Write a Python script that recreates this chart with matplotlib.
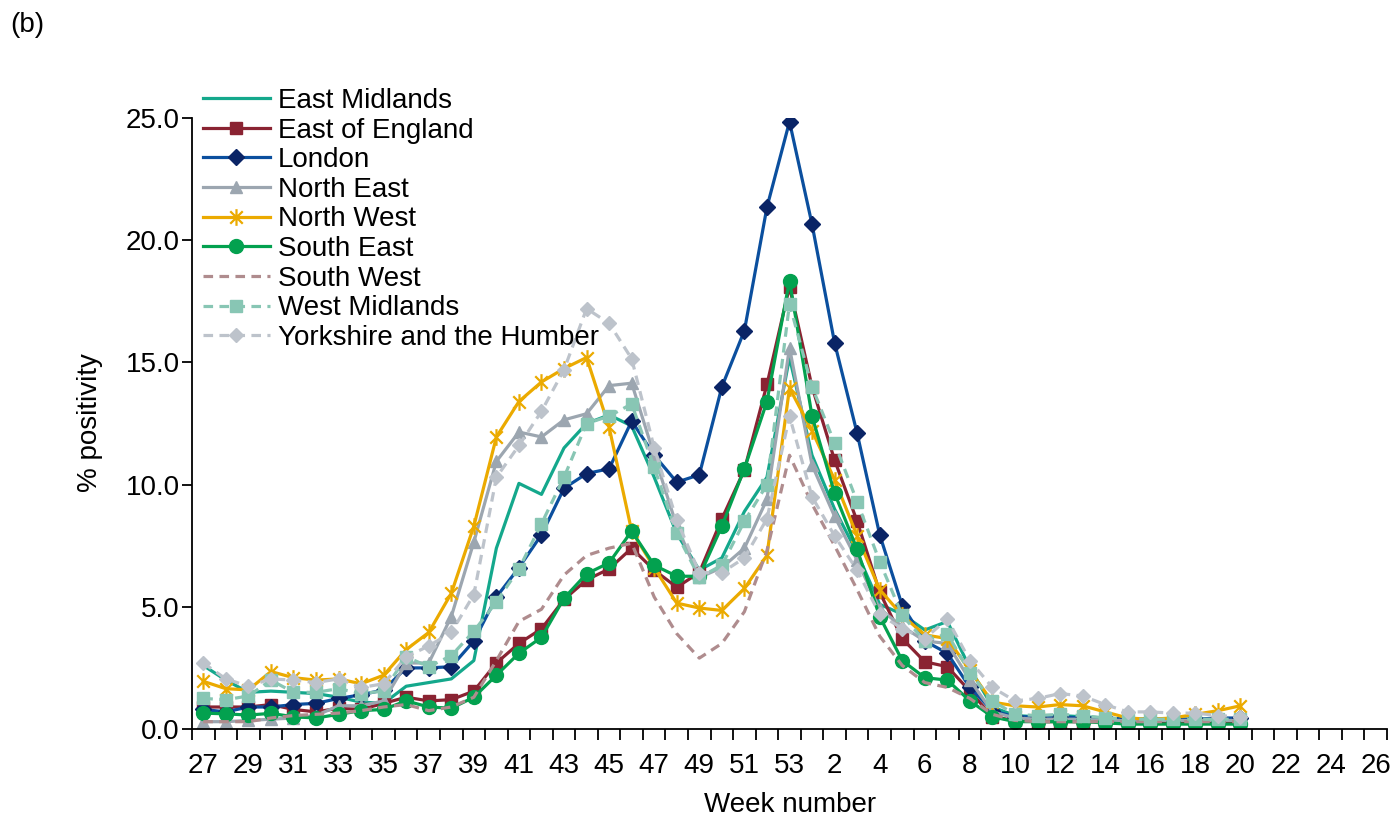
import numpy as np
import matplotlib
matplotlib.use("Agg")
import matplotlib.pyplot as plt
from matplotlib.path import Path

plt.rcParams['font.family'] = ['Liberation Sans', 'DejaVu Sans']

weeks = list(range(27, 54)) + list(range(1, 27))
tick_labels = [str(w) for w in weeks]

east_midlands = [2.6, 2.0, 1.5, 1.55, 1.5, 1.45, 1.3, 1.1, 1.05, 1.75, 1.9, 2.05, 2.8, 7.4, 10.05, 9.6, 11.5, 12.5, 12.85, 12.4, 10.3, 8.0, 6.5, 7.0, 8.9, 10.3, 15.2,
                 11.2, 9.0, 7.2, 5.1, 4.7, 4.05, 4.4, 2.5, 0.9, 0.55, 0.5, 0.55, 0.5, 0.45, 0.4, 0.4, 0.4, 0.4, 0.4, 0.4]
east_of_england = [0.9, 0.9, 0.9, 1.0, 0.8, 0.7, 0.85, 0.8, 1.05, 1.3, 1.15, 1.2, 1.55, 2.7, 3.5, 4.1, 5.3, 6.1, 6.55, 7.4, 6.5, 5.8, 6.4, 8.6, 10.6, 14.1, 18.1,
                   14.0, 11.0, 8.5, 5.6, 3.7, 2.75, 2.55, 1.55, 0.5, 0.35, 0.3, 0.3, 0.3, 0.3, 0.25, 0.25, 0.25, 0.25, 0.25, 0.25]
london = [0.8, 0.7, 0.9, 0.9, 1.0, 1.05, 1.25, 1.4, 1.6, 2.5, 2.5, 2.55, 3.6, 5.4, 6.6, 7.95, 9.85, 10.45, 10.65, 12.6, 11.2, 10.1, 10.4, 14.0, 16.3, 21.35, 24.85,
          20.65, 15.8, 12.1, 7.95, 5.05, 3.6, 3.1, 1.7, 0.75, 0.5, 0.5, 0.5, 0.45, 0.45, 0.4, 0.4, 0.4, 0.4, 0.45, 0.45]
north_east = [0.3, 0.3, 0.35, 0.4, 0.45, 0.55, 0.95, 0.95, 1.15, 2.7, 2.7, 4.6, 7.65, 10.95, 12.15, 11.95, 12.65, 12.9, 14.05, 14.15, 11.2, 8.3, 6.2, 6.6, 7.4, 9.4, 15.6,
              10.8, 8.7, 6.9, 4.9, 4.2, 3.6, 3.5, 2.0, 0.7, 0.45, 0.4, 0.4, 0.4, 0.35, 0.35, 0.35, 0.35, 0.35, 0.35, 0.35]
north_west = [1.95, 1.65, 1.6, 2.35, 2.1, 2.0, 2.05, 1.85, 2.2, 3.25, 3.95, 5.55, 8.3, 11.95, 13.4, 14.2, 14.75, 15.2, 12.35, 8.1, 6.6, 5.15, 4.95, 4.85, 5.75, 7.1, 13.95,
              12.2, 10.2, 7.9, 5.7, 4.65, 3.85, 3.7, 2.4, 1.1, 0.95, 0.9, 1.0, 0.95, 0.7, 0.45, 0.4, 0.45, 0.6, 0.75, 0.95]
south_east = [0.65, 0.62, 0.57, 0.64, 0.5, 0.45, 0.6, 0.75, 0.8, 1.15, 0.9, 0.85, 1.3, 2.2, 3.1, 3.75, 5.35, 6.35, 6.8, 8.1, 6.7, 6.25, 6.25, 8.3, 10.65, 13.4, 18.35,
              12.8, 9.65, 7.35, 4.6, 2.8, 2.1, 2.0, 1.15, 0.5, 0.3, 0.3, 0.3, 0.3, 0.25, 0.2, 0.2, 0.2, 0.2, 0.2, 0.2]
south_west = [0.3, 0.3, 0.3, 0.45, 0.55, 0.6, 0.65, 0.75, 0.9, 1.0, 0.75, 0.9, 1.3, 2.8, 4.4, 4.9, 6.3, 7.1, 7.4, 7.6, 5.4, 3.9, 2.9, 3.5, 4.8, 7.3, 11.2,
              9.2, 7.5, 5.7, 3.8, 2.6, 1.9, 1.7, 1.25, 0.6, 0.35, 0.3, 0.3, 0.3, 0.3, 0.3, 0.3, 0.3, 0.3, 0.3, 0.3]
west_midlands = [1.25, 1.2, 1.35, 2.0, 1.5, 1.5, 1.65, 1.45, 1.55, 2.95, 2.55, 3.0, 4.0, 5.2, 6.55, 8.4, 10.3, 12.5, 12.8, 13.3, 10.7, 8.0, 6.2, 6.7, 8.5, 10.0, 17.4,
                 14.0, 11.7, 9.3, 6.85, 4.65, 3.6, 3.9, 2.3, 1.15, 0.6, 0.55, 0.6, 0.55, 0.45, 0.4, 0.4, 0.4, 0.4, 0.4, 0.4]
yorkshire = [2.7, 2.05, 1.75, 2.05, 2.0, 1.9, 2.05, 1.7, 1.85, 2.95, 3.4, 3.95, 5.5, 10.3, 11.6, 13.0, 14.7, 17.2, 16.6, 15.15, 11.5, 8.55, 6.4, 6.4, 7.0, 8.6, 12.8,
             9.5, 7.9, 6.5, 4.7, 4.1, 3.7, 4.5, 2.8, 1.7, 1.15, 1.25, 1.45, 1.35, 1.0, 0.7, 0.7, 0.65, 0.65, 0.55, 0.5]

names = ["East Midlands", "East of England", "London", "North East", "North West",
         "South East", "South West", "West Midlands", "Yorkshire and the Humber"]
series = [east_midlands, east_of_england, london, north_east, north_west,
          south_east, south_west, west_midlands, yorkshire]

# asterisk marker (Excel star)
star = Path([(0, -1), (0, 1), (-0.75, -0.75), (0.75, 0.75), (-0.75, 0.75), (0.75, -0.75)],
            [Path.MOVETO, Path.LINETO, Path.MOVETO, Path.LINETO, Path.MOVETO, Path.LINETO])

styles = [
    dict(color='#14A88C', lw=2.3, ls='-', marker=None),
    dict(color='#8A2332', lw=2.3, ls='-', marker='s', ms=9, mfc='#8A2332', mec='#8A2332'),
    dict(color='#0B4F9E', lw=2.3, ls='-', marker='D', ms=8, mfc='#0A2466', mec='#0A2466'),
    dict(color='#9CA6B0', lw=2.3, ls='-', marker='^', ms=9, mfc='#9CA6B0', mec='#9CA6B0'),
    dict(color='#EBAA00', lw=2.3, ls='-', marker=star, ms=12, mfc='none', mec='#EBAA00', mew=1.6),
    dict(color='#03A14F', lw=2.3, ls='-', marker='o', ms=10, mfc='#03A14F', mec='#03A14F'),
    dict(color='#AF8C8E', lw=2.3, ls=(0, (3, 2)), marker=None),
    dict(color='#88C6B4', lw=2.3, ls=(0, (3, 2)), marker='s', ms=9, mfc='#88C6B4', mec='#88C6B4'),
    dict(color='#BDC3CB', lw=2.3, ls=(0, (3, 2)), marker='D', ms=7, mfc='#BDC3CB', mec='#BDC3CB'),
]

fig = plt.figure(figsize=(14, 8.18), dpi=100)
ax = fig.add_axes([192/1400, 1-729/818, (1387-192)/1400, (729-118)/818])

x = np.arange(len(weeks))
for name, vals, st in zip(names, series, styles):
    xv = x[:len(vals)]
    kw = dict(color=st['color'], lw=st['lw'], ls=st['ls'], label=name)
    if st['marker'] is not None:
        kw.update(marker=st['marker'], ms=st['ms'], mfc=st['mfc'], mec=st['mec'],
                  mew=st.get('mew', 1.0))
    ax.plot(xv, vals, **kw)

ax.set_xlim(-0.5, len(weeks) - 0.5)
ax.set_ylim(0, 25)
ax.set_yticks(np.arange(0, 26, 5))
ax.set_yticklabels([f"{v:.1f}" for v in np.arange(0, 26, 5)], fontsize=20)
ax.tick_params(axis='y', length=7, width=1.3, pad=2)

ax.set_xticks(np.arange(-0.5, len(weeks), 1))
ax.set_xticklabels([])
ax.tick_params(axis='x', which='major', length=8, width=1.3, direction='out')
ax.set_xticks(x[::2], minor=True)
ax.set_xticklabels(tick_labels[::2], minor=True, fontsize=20)
ax.tick_params(axis='x', which='minor', length=0, pad=17)

for s in ['top', 'right']:
    ax.spines[s].set_visible(False)
for s in ['left', 'bottom']:
    ax.spines[s].set_linewidth(1.3)

fig.text(90/1400, 1-423/818, "% positivity", rotation=90, ha='center', va='center', fontsize=20)
fig.text(790/1400, 1-805/818, "Week number", ha='center', va='center', fontsize=20)
fig.text(10/1400, 1-25/818, "(b)", ha='left', va='center', fontsize=20)

leg = fig.legend(loc='upper left', bbox_to_anchor=(203/1400, 1-88/818), frameon=False,
                 fontsize=20, handlelength=2.4, handletextpad=0.3, labelspacing=0.13,
                 borderpad=0, borderaxespad=0)

fig.savefig("out.png", dpi=100)
